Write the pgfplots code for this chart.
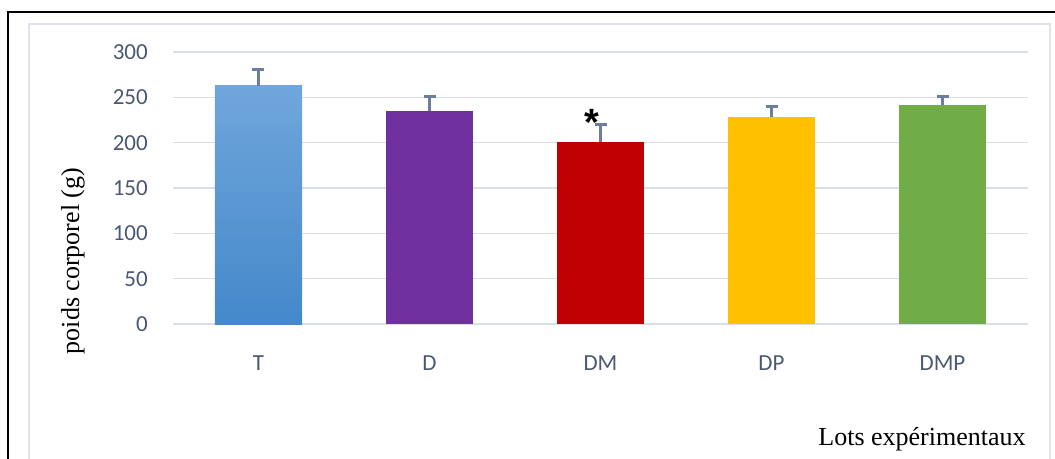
\documentclass[border=0pt]{standalone}
\usepackage{pgfplots}
\pgfplotsset{compat=1.18}
\usepackage{fontspec}
\setmainfont{Liberation Serif}
\newfontfamily\calibri{Carlito}
\newfontfamily\arialf{Liberation Sans}
\definecolor{tTop}{HTML}{70A6DC}
\definecolor{tBot}{HTML}{4488CA}
\definecolor{cD}{HTML}{7030A0}
\definecolor{cDM}{HTML}{C00000}
\definecolor{cDP}{HTML}{FFC000}
\definecolor{cDMP}{HTML}{70AD47}
\definecolor{errc}{HTML}{6A7FA0}
\definecolor{gridc}{HTML}{DADFE6}
\definecolor{tickc}{HTML}{4A5870}
\definecolor{framec}{HTML}{E0E4EA}
\pgfplotsset{
  mybar/.style={ybar, bar width=87pt, bar shift=0pt, draw=none},
  myerr/.style={error bars/.cd, y dir=plus, y explicit,
    error bar style={draw=errc, line width=2.6pt},
    error mark options={rotate=90, mark size=6pt, line width=3pt, draw=errc}},
}
\begin{document}
\begin{tikzpicture}
\begin{axis}[
  name=ax,
  scale only axis, width=855pt, height=272pt,
  xmin=-0.5, xmax=4.5, ymin=0, ymax=300,
  ytick={0,50,...,300},
  xtick={0,1,2,3,4},
  xticklabels={T,D,DM,DP,DMP},
  axis line style={draw=none},
  tick style={draw=none},
  ymajorgrids, grid style={gridc, line width=1.6pt},
  /pgf/number format/assume math mode=true,
  ticklabel style={font=\calibri\fontsize{23}{27}\selectfont, text=tickc},
  yticklabel style={anchor=east, inner sep=0pt, xshift=-25pt},
  xticklabel style={anchor=north, inner sep=0pt, yshift=-32pt},
  clip=false,
]
\addplot[mybar, top color=tTop, bottom color=tBot] coordinates {(0,262.5)};
\addplot[mybar, fill=none, myerr] coordinates {(0,262.5) +- (0,18.5)};
\addplot[mybar, fill=cD, myerr] coordinates {(1,235) +- (0,15.7)};
\addplot[mybar, fill=cDM, myerr] coordinates {(2,200.7) +- (0,19)};
\addplot[mybar, fill=cDP, myerr] coordinates {(3,228.3) +- (0,11.4)};
\addplot[mybar, fill=cDMP, myerr] coordinates {(4,241.5) +- (0,9.5)};
\node[anchor=base, font=\arialf\bfseries\fontsize{38}{38}\selectfont, inner sep=0pt] at (axis cs:1.95,207.5) {*};
\end{axis}
\begin{scope}[shift={(ax.south west)}, x=1pt, y=1pt]
\draw[framec, line width=2pt] (29-173,-10-134) -- (29-173,434-134) -- (1050-173,434-134) -- (1050-173,-10-134);
\draw[black, line width=2pt] (8-173,-10-134) -- (8-173,446-134) -- (1070-173,446-134);
\node[rotate=90, font=\fontsize{26}{30}\selectfont] at (73-173,197-134) {poids corporel (g)};
\node[anchor=base, font=\fontsize{26}{30}\selectfont] at (922-173,12.3-134) {Lots expérimentaux};
\pgfresetboundingbox
\path[use as bounding box] (0-173,0-134) rectangle (1055-173,458-134);
\end{scope}
\end{tikzpicture}
\end{document}
